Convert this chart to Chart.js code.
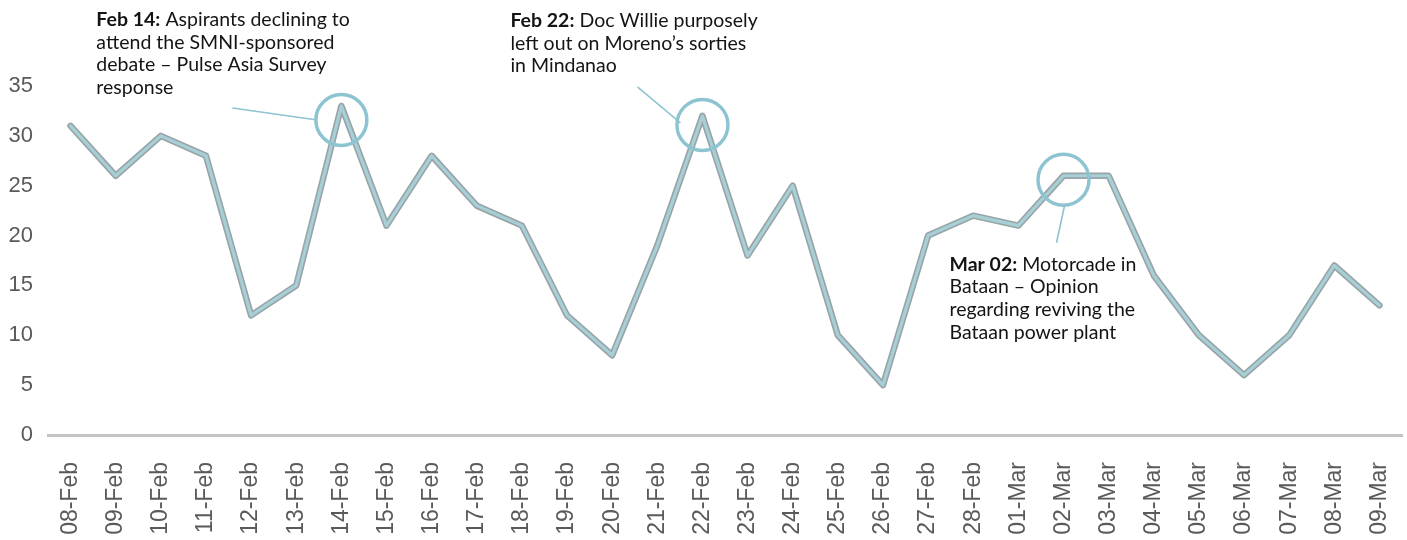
<!DOCTYPE html>
<html>
<head>
<meta charset="utf-8">
<script src="https://cdn.jsdelivr.net/npm/chart.js@4/dist/chart.umd.min.js"></script>
<style>
  html, body { margin: 0; padding: 0; background: #fff; }
  #wrap { width: 1407px; height: 540px; position: relative; }
</style>
</head>
<body>
<div id="wrap"><canvas id="lineChart"></canvas></div>
<script>
// Daily values, 08-Feb to 09-Mar
var dates = ['08-Feb', '09-Feb', '10-Feb', '11-Feb', '12-Feb', '13-Feb', '14-Feb', '15-Feb', '16-Feb', '17-Feb',
             '18-Feb', '19-Feb', '20-Feb', '21-Feb', '22-Feb', '23-Feb', '24-Feb', '25-Feb', '26-Feb', '27-Feb',
             '28-Feb', '01-Mar', '02-Mar', '03-Mar', '04-Mar', '05-Mar', '06-Mar', '07-Mar', '08-Mar', '09-Mar'];
var mentions = [31, 26, 30, 28, 12, 15, 33, 21, 28, 23,
                21, 12, 8, 19, 32, 18, 25, 10, 5, 20,
                22, 21, 26, 26, 16, 10, 6, 10, 17, 13];
var yMin = 0;
var yMax = 35;
var yStep = 5;

// Event notes: which date they point at, bold head, and the rest of the text per line
var noteDates = ['14-Feb', '22-Feb', '02-Mar'];
var noteHeads = ['Feb 14:', 'Feb 22:', 'Mar 02:'];
var noteLines = [
    [' Aspirants declining to', 'attend the SMNI-sponsored', 'debate \u2013 Pulse Asia Survey', 'response'],
    [' Doc Willie purposely', 'left out on Moreno\u2019s sorties', 'in Mindanao'],
    [' Motorcade in', 'Bataan \u2013 Opinion', 'regarding reviving the', 'Bataan power plant']
];

// Placement of each note relative to the marked point (pixels)
var notePlacement = [
    { circleDy: 14, text: [-245, -94], lead: [[-109, -12], [-24, 0]] },
    { circleDy: 9,  text: [-192, -98], lead: [[-65, -38], [-22, -2]] },
    { circleDy: 4,  text: [-114, 91],  lead: [[1, 26], [-7, 63]] }
];

var circleColor = '#8ec4d1';
var noteFont = 'Lato, "Liberation Sans", sans-serif';

// Draws the circles, leader lines and note text on top of the line
var notesPlugin = {
    id: 'notes',
    afterDatasetsDraw: function (chart) {
        var ctx = chart.ctx;
        var xs = chart.scales.x;
        var ys = chart.scales.y;
        ctx.save();
        for (var i = 0; i < noteDates.length; i++) {
            var idx = dates.indexOf(noteDates[i]);
            var p = notePlacement[i];
            var cx = xs.getPixelForValue(idx);
            var cy = ys.getPixelForValue(mentions[idx]) + p.circleDy;

            // leader line
            ctx.strokeStyle = circleColor;
            ctx.lineWidth = 1.6;
            ctx.beginPath();
            ctx.moveTo(cx + p.lead[0][0], cy + p.lead[0][1]);
            ctx.lineTo(cx + p.lead[1][0], cy + p.lead[1][1]);
            ctx.stroke();

            // circle
            ctx.lineWidth = 3.5;
            ctx.beginPath();
            ctx.arc(cx, cy, 25.5, 0, Math.PI * 2);
            ctx.stroke();

            // text
            var tx = cx + p.text[0];
            var ty = cy + p.text[1];
            ctx.fillStyle = '#141414';
            ctx.textBaseline = 'alphabetic';
            ctx.textAlign = 'left';
            for (var j = 0; j < noteLines[i].length; j++) {
                var lx = tx;
                var ly = ty + j * 22.6;
                if (j === 0) {
                    ctx.font = 'bold 19.5px ' + noteFont;
                    ctx.fillText(noteHeads[i], lx, ly);
                    lx += ctx.measureText(noteHeads[i]).width;
                }
                ctx.font = '19.5px ' + noteFont;
                ctx.fillText(noteLines[i][j], lx, ly);
            }
        }
        ctx.restore();
    }
};

var ctx = document.getElementById('lineChart').getContext('2d');

window.myChart = new Chart(ctx, {
    type: 'line',
    data: {
        labels: dates,
        datasets: [{
            // light inner stroke
            data: mentions,
            borderColor: '#a7cfd6',
            borderWidth: 3.2,
            borderJoinStyle: 'round',
            borderCapStyle: 'round',
            pointRadius: 0,
            tension: 0
        }, {
            // grey outer stroke underneath
            data: mentions,
            borderColor: '#98a4a7',
            borderWidth: 6.5,
            borderJoinStyle: 'round',
            borderCapStyle: 'round',
            pointRadius: 0,
            tension: 0
        }]
    },
    options: {
        responsive: true,
        maintainAspectRatio: false,
        animation: false,
        layout: {
            padding: { top: 86, right: 5, left: 0, bottom: 0 }
        },
        plugins: {
            legend: { display: false },
            tooltip: { enabled: false }
        },
        scales: {
            x: {
                offset: true,
                grid: { display: false, drawTicks: false },
                border: { display: true, color: '#c4c4c4', width: 3 },
                ticks: {
                    autoSkip: false,
                    minRotation: 90,
                    maxRotation: 90,
                    padding: 27,
                    color: '#5a5a5a',
                    font: { family: '"Liberation Sans", Arial, sans-serif', size: 23 }
                },
                afterFit: function (scale) {
                    scale.height = 105;
                    scale.paddingLeft = 0;
                    scale.paddingRight = 0;
                }
            },
            y: {
                min: yMin,
                max: yMax,
                grid: { display: false, drawTicks: false },
                border: { display: false },
                ticks: {
                    stepSize: yStep,
                    padding: 15,
                    color: '#5a5a5a',
                    font: { family: '"Liberation Sans", Arial, sans-serif', size: 22 }
                },
                afterFit: function (scale) {
                    scale.width = 48;
                    scale.paddingTop = 0;
                    scale.paddingBottom = 0;
                }
            }
        }
    },
    plugins: [notesPlugin]
});
</script>
</body>
</html>
